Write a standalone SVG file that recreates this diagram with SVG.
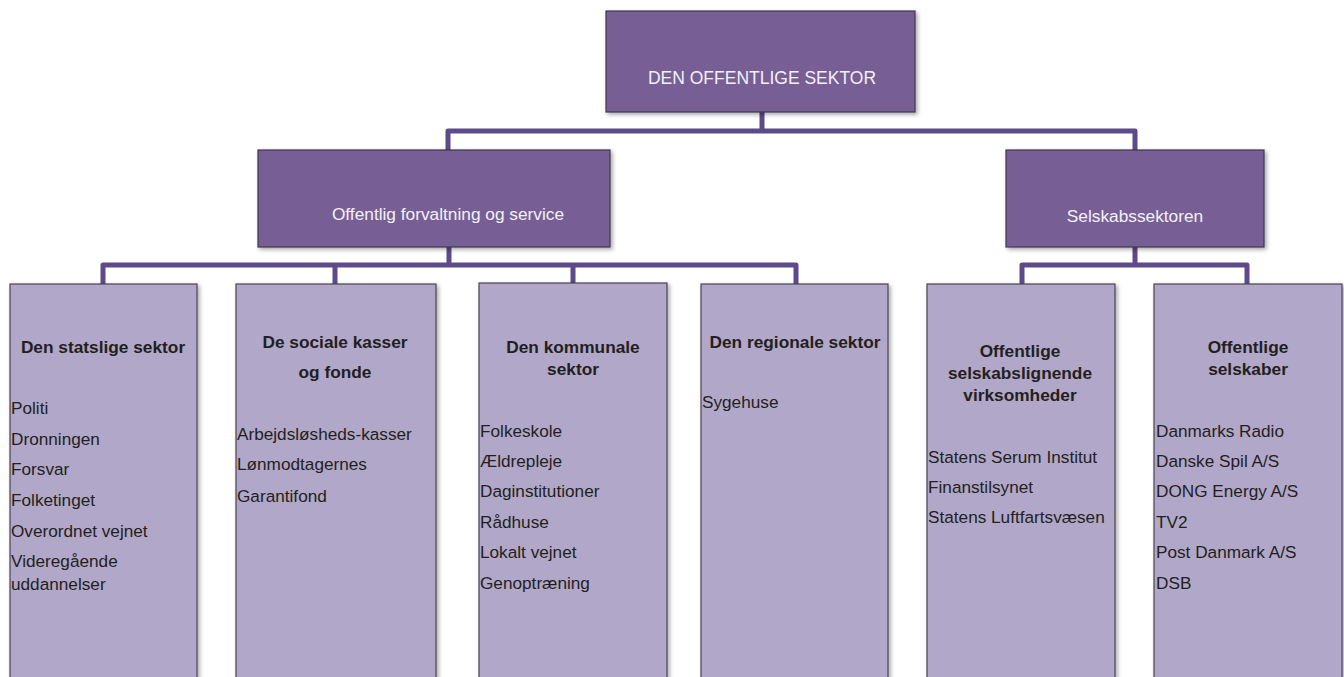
<svg xmlns="http://www.w3.org/2000/svg" width="1344" height="677" viewBox="0 0 1344 677">
<defs>
<filter id="sh" x="-10%" y="-10%" width="125%" height="125%">
<feDropShadow dx="2" dy="2" stdDeviation="2" flood-color="#000" flood-opacity="0.35"/>
</filter>
<style>
.dark{fill:#775f96;stroke:#3f3650;stroke-width:1.2}
.light{fill:#b1a7c8;stroke:#4a4452;stroke-width:1.2}
.conn{fill:none;stroke:#5d4a8a;stroke-width:5;stroke-linejoin:round}
.tw{font-family:"Liberation Sans",Arial,sans-serif;fill:#f3f0f7}
.h{font-family:"Liberation Sans",Arial,sans-serif;font-weight:bold;font-size:17.3px;fill:#231f20;text-anchor:middle}
.i{font-family:"Liberation Sans",Arial,sans-serif;font-size:17.2px;fill:#231f20}
</style>
</defs>
<rect width="1344" height="677" fill="#ffffff"/>
<g id="connectors">
<path class="conn" d="M762 112 V131 M448 150 V131 H1135 V150"/>
<path class="conn" d="M449 247 V265 M103 284 V265 H796 V284 M335 265 V284 M573 265 V284"/>
<path class="conn" d="M1135 247 V265 M1022 284 V265 H1247 V284"/>
</g>
<g id="n-top">
<rect class="dark" x="606" y="11" width="309" height="101" filter="url(#sh)"/>
<text class="tw" x="762" y="84" font-size="17.5" text-anchor="middle">DEN OFFENTLIGE SEKTOR</text>
</g>
<g id="n-forvaltning">
<rect class="dark" x="258" y="150" width="352" height="97" filter="url(#sh)"/>
<text class="tw" x="448" y="220" font-size="17.3" text-anchor="middle">Offentlig forvaltning og service</text>
</g>
<g id="n-selskabssektoren">
<rect class="dark" x="1006" y="150" width="258" height="97" filter="url(#sh)"/>
<text class="tw" x="1135" y="222" font-size="17.3" text-anchor="middle">Selskabssektoren</text>
</g>
<g id="n-statslig">
<rect class="light" x="10" y="284" width="187" height="400" filter="url(#sh)"/>
<text class="h" x="103" y="353">Den statslige sektor</text>
<text class="i" x="11" y="414">Politi</text>
<text class="i" x="11" y="445">Dronningen</text>
<text class="i" x="11" y="475">Forsvar</text>
<text class="i" x="11" y="506">Folketinget</text>
<text class="i" x="11" y="537">Overordnet vejnet</text>
<text class="i" x="11" y="567">Videregående</text>
<text class="i" x="11" y="590">uddannelser</text>
</g>
<g id="n-sociale">
<rect class="light" x="236" y="284" width="200" height="400" filter="url(#sh)"/>
<text class="h" x="335" y="348">De sociale kasser</text>
<text class="h" x="335" y="378">og fonde</text>
<text class="i" x="237" y="440">Arbejdsløsheds-kasser</text>
<text class="i" x="237" y="470">Lønmodtagernes</text>
<text class="i" x="237" y="502">Garantifond</text>
</g>
<g id="n-kommunal">
<rect class="light" x="479" y="283" width="188" height="401" filter="url(#sh)"/>
<text class="h" x="573" y="353">Den kommunale</text>
<text class="h" x="573" y="375">sektor</text>
<text class="i" x="480" y="437">Folkeskole</text>
<text class="i" x="480" y="467">Ældrepleje</text>
<text class="i" x="480" y="497">Daginstitutioner</text>
<text class="i" x="480" y="528">Rådhuse</text>
<text class="i" x="480" y="558">Lokalt vejnet</text>
<text class="i" x="480" y="589">Genoptræning</text>
</g>
<g id="n-regional">
<rect class="light" x="701" y="284" width="187" height="400" filter="url(#sh)"/>
<text class="h" x="795" y="348">Den regionale sektor</text>
<text class="i" x="702" y="408">Sygehuse</text>
</g>
<g id="n-selskabslignende">
<rect class="light" x="927" y="284" width="188" height="400" filter="url(#sh)"/>
<text class="h" x="1020" y="357">Offentlige</text>
<text class="h" x="1020" y="379">selskabslignende</text>
<text class="h" x="1020" y="401">virksomheder</text>
<text class="i" x="928" y="463">Statens Serum Institut</text>
<text class="i" x="928" y="493">Finanstilsynet</text>
<text class="i" x="928" y="523">Statens Luftfartsvæsen</text>
</g>
<g id="n-selskaber">
<rect class="light" x="1154" y="284" width="188" height="400" filter="url(#sh)"/>
<text class="h" x="1248" y="353">Offentlige</text>
<text class="h" x="1248" y="375">selskaber</text>
<text class="i" x="1156" y="437">Danmarks Radio</text>
<text class="i" x="1156" y="467">Danske Spil A/S</text>
<text class="i" x="1156" y="497">DONG Energy A/S</text>
<text class="i" x="1156" y="528">TV2</text>
<text class="i" x="1156" y="558">Post Danmark A/S</text>
<text class="i" x="1156" y="589">DSB</text>
</g>
</svg>
